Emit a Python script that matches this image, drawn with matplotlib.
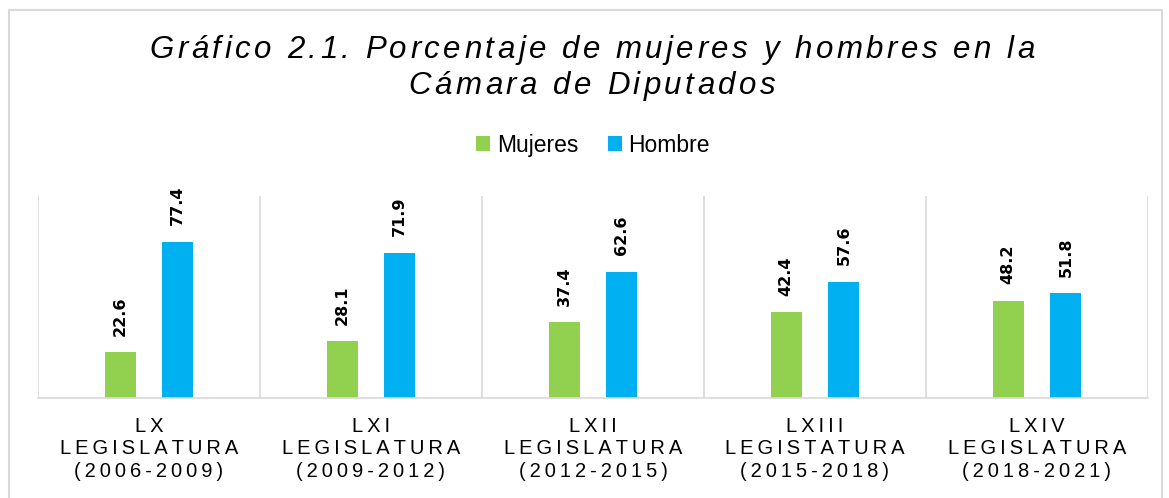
import numpy as np
import matplotlib.pyplot as plt
from matplotlib.patches import Rectangle
from matplotlib.font_manager import FontProperties, findfont
from matplotlib.ft2font import FT2Font

plt.rcParams['font.family'] = ['Liberation Sans', 'DejaVu Sans']

categorias = ['LX\nLEGISLATURA\n(2006-2009)',
              'LXI\nLEGISLATURA\n(2009-2012)',
              'LXII\nLEGISLATURA\n(2012-2015)',
              'LXIII\nLEGISTATURA\n(2015-2018)',
              'LXIV\nLEGISLATURA\n(2018-2021)']
mujeres = [22.6, 28.1, 37.4, 42.4, 48.2]
hombre = [77.4, 71.9, 62.6, 57.6, 51.8]
titulo = ['Gráfico 2.1. Porcentaje de mujeres y hombres en la',
          'Cámara de Diputados']

verde = '#92D050'
azul = '#00B0F0'
gris = '#D9D9D9'

W, H = 1169, 498


def espaciar(s):
    # thin space between letters, like the expanded spacing in the original
    return '\n'.join('\u2009'.join(linea) for linea in s.split('\n'))


def texto_espaciado(fig, xc, yc, s, size, track, **kw):
    # draw char by char so the letter spacing can be widened (pixels)
    fp = FontProperties(family='Liberation Sans', style=kw.get('style', 'normal'), size=size)
    f = FT2Font(findfont(fp))
    f.set_size(size, 100)
    adv = [f.load_char(ord(c)).linearHoriAdvance / 65536 for c in s]
    total = sum(adv) + track * (len(s) - 1)
    x0 = xc - total / 2
    for c, a in zip(s, adv):
        fig.text(x0 / W, 1 - yc / H, c, ha='left', va='center', fontproperties=fp)
        x0 += a + track


fig = plt.figure(figsize=(W / 100, H / 100), dpi=100)
ax = fig.add_axes([38 / W, 1 - 398 / H, 1110 / W, 202 / H])

x = np.arange(len(categorias))
w = 0.14
off = 0.13
b1 = ax.bar(x - off, mujeres, w, color=verde, label='Mujeres')
b2 = ax.bar(x + off, hombre, w, color=azul, label='Hombre')

for barras in (b1, b2):
    for r in barras:
        ax.annotate(f'{r.get_height():.1f}', (r.get_x() + r.get_width() / 2, r.get_height()),
                    xytext=(0, 12), textcoords='offset points', rotation=90,
                    ha='center', va='bottom', fontsize=11.5, fontweight='bold',
                    family=['DejaVu Sans'])

ax.set_xlim(-0.5, len(categorias) - 0.5)
ax.set_ylim(0, 100)
ax.set_yticks([])
ax.set_xticks(x)
ax.set_xticklabels([espaciar(c) for c in categorias], fontsize=14.5, linespacing=1.25)
ax.tick_params(axis='x', length=0, pad=13.5)
for xb in np.arange(-0.5, len(categorias), 1):
    ax.axvline(xb, color=gris, lw=1.2, zorder=0)
for s in ['top', 'left', 'right']:
    ax.spines[s].set_visible(False)
ax.spines['bottom'].set_color(gris)
ax.spines['bottom'].set_linewidth(1.2)

texto_espaciado(fig, 592, 50, titulo[0], 22.5, 3.5, style='italic')
texto_espaciado(fig, 592, 86, titulo[1], 22.5, 3.5, style='italic')

fig.legend(handles=[b1, b2], labels=['Mujeres', 'Hombre'], loc='center',
           bbox_to_anchor=(593 / W, 1 - 145 / H), ncol=2, frameon=False,
           fontsize=16.5, handlelength=0.6, handleheight=0.6, handletextpad=0.3,
           columnspacing=1.3)

fig.add_artist(Rectangle((9 / W, -0.05), 1153 / W, 1.05 - 10 / H,
                         transform=fig.transFigure, fill=False, edgecolor=gris, lw=1.5))

fig.savefig('out.png', dpi=100)
